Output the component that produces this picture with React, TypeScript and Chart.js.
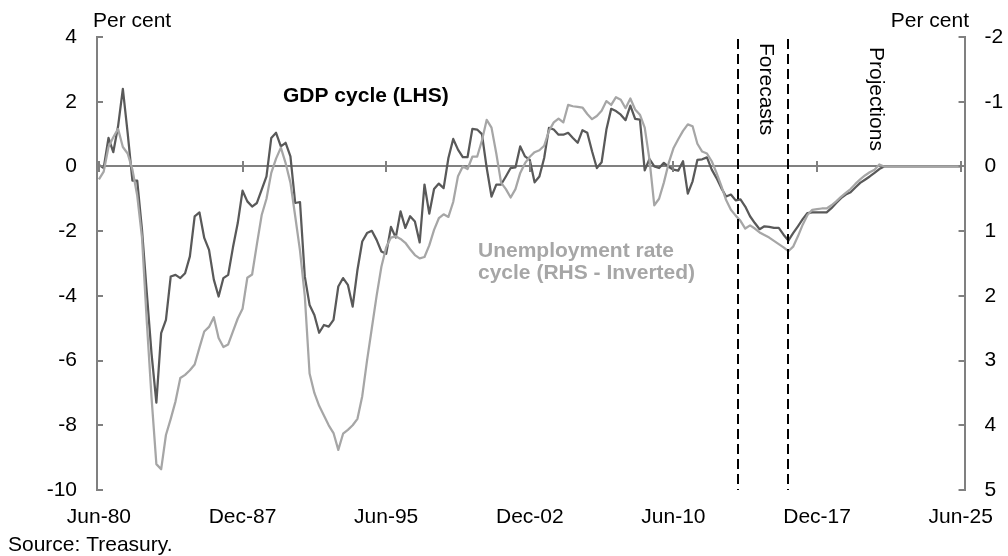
import React, { useEffect, useRef } from "react";
import { Chart, registerables } from "chart.js";

Chart.register(...registerables);

// Quarterly observations, Jun-80 (index 0) to Jun-25 (index 180)
const gdpCycle: number[] = [
  0.05, -0.05, 0.88, 0.44, 1.24, 2.4, 1.04, -0.44, -0.44, -1.96,
  -3.9, -5.8, -7.3, -5.15, -4.74, -3.4, -3.35, -3.45, -3.3, -2.78,
  -1.54, -1.42, -2.21, -2.58, -3.5, -4.02, -3.45, -3.35, -2.5, -1.75,
  -0.75, -1.08, -1.24, -1.13, -0.72, -0.31, 0.88, 1.04, 0.62, 0.73,
  0.31, -1.13, -1.1, -3.4, -4.28, -4.59, -5.14, -4.9, -4.95, -4.74,
  -3.71, -3.45, -3.66, -4.33, -3.2, -2.32, -2.06, -1.99, -2.27, -2.63,
  -2.7, -1.87, -2.2, -1.39, -1.9, -1.54, -1.7, -2.35, -0.56, -1.46,
  -0.7, -0.53, -0.67, 0.26, 0.85, 0.52, 0.29, 0.29, 1.16, 1.14,
  1.0, -0.05, -0.93, -0.56, -0.56, -0.31, -0.05, -0.03, 0.62, 0.31,
  0.2, -0.49, -0.31, 0.26, 1.19, 1.14, 0.98, 0.98, 1.04, 0.88,
  0.73, 1.12, 1.04, 0.47, -0.05, 0.13, 1.14, 1.78, 1.71, 1.6,
  1.43, 1.88, 1.47, 1.45, -0.12, 0.23, 0.0, -0.05, 0.11, -0.01,
  -0.1, -0.13, 0.16, -0.84, -0.46, 0.2, 0.22, 0.28, -0.1, -0.36,
  -0.67, -0.93, -0.87, -1.05, -1.02, -1.24, -1.54, -1.75, -1.94, -1.85,
  -1.87, -1.9, -1.9, -2.11, -2.29, -2.06, -1.85, -1.63, -1.44, -1.42,
  -1.42, -1.42, -1.42, -1.29, -1.13, -0.98, -0.87, -0.8, -0.65, -0.51,
  -0.41, -0.31, -0.2, -0.08, 0, 0, 0, 0, 0, 0,
  0, 0, 0, 0, 0, 0, 0, 0, 0, 0,
  0,
];

const unemploymentCycle: number[] = [
  0.2, 0.08, -0.3, -0.45, -0.58, -0.3, -0.2, 0.05, 0.45, 1.1,
  2.4, 3.58, 4.6, 4.68, 4.15, 3.9, 3.63, 3.27, 3.22, 3.15,
  3.06, 2.8, 2.55, 2.48, 2.33, 2.65, 2.79, 2.75, 2.55, 2.35,
  2.2, 1.72, 1.67, 1.2, 0.75, 0.5, 0.1, -0.12, -0.29, -0.05,
  0.25, 0.77, 1.3, 2.0, 3.2, 3.5, 3.7, 3.85, 4.0, 4.12,
  4.38, 4.13, 4.07, 4.0, 3.9, 3.55, 3.0, 2.5, 2.0, 1.55,
  1.25, 1.1, 1.08, 1.12, 1.18, 1.28, 1.37, 1.42, 1.4, 1.22,
  0.98, 0.8, 0.74, 0.78, 0.55, 0.15, 0.0, 0.04, -0.15, -0.15,
  -0.4, -0.72, -0.6, -0.2, 0.25, 0.35, 0.48, 0.35, 0.1, -0.05,
  -0.15, -0.22, -0.25, -0.32, -0.55, -0.68, -0.74, -0.68, -0.95, -0.93,
  -0.92, -0.91, -0.81, -0.73, -0.78, -0.86, -1.01, -0.95, -1.07, -1.03,
  -0.9, -1.05, -0.88, -0.8, -0.6, -0.1, 0.6, 0.5, 0.25, -0.05,
  -0.28, -0.42, -0.55, -0.65, -0.62, -0.35, -0.23, -0.2, -0.08, 0.1,
  0.3, 0.52, 0.67, 0.76, 0.84, 0.96, 0.91, 0.96, 1.02, 1.06,
  1.1, 1.15, 1.2, 1.25, 1.31, 1.24, 1.08, 0.9, 0.75, 0.67,
  0.66, 0.65, 0.65, 0.6, 0.54, 0.47, 0.41, 0.35, 0.27, 0.2,
  0.14, 0.09, 0.05, -0.03, 0, 0, 0, 0, 0, 0,
  0, 0, 0, 0, 0, 0, 0, 0, 0, 0,
  0,
];

const xTickQuarters: number[] = [0, 30, 60, 90, 120, 150, 180];
const xTickLabels: string[] = ["Jun-80", "Dec-87", "Jun-95", "Dec-02", "Jun-10", "Dec-17", "Jun-25"];
const forecastBounds: number[] = [133.5, 144];

const FONT = "'Liberation Sans', Arial, sans-serif";
const AXIS = "#808080";

const overlayPlugin = {
  id: "overlay",
  afterDatasetsDraw(chart: any) {
    const { ctx, chartArea, scales } = chart;
    const x = scales.x;
    ctx.save();
    ctx.strokeStyle = "#000";
    ctx.lineWidth = 2;
    ctx.setLineDash([10, 5]);
    forecastBounds.forEach((q) => {
      const px = Math.round(x.getPixelForValue(q));
      ctx.beginPath();
      ctx.moveTo(px, chartArea.top + 2);
      ctx.lineTo(px, chartArea.bottom);
      ctx.stroke();
    });
    ctx.restore();
  },
  afterDraw(chart: any) {
    const { ctx, chartArea, scales } = chart;
    const x = scales.x;
    const y = scales.y;
    const y1 = scales.y1;
    ctx.save();
    ctx.strokeStyle = AXIS;
    ctx.lineWidth = 2;
    ctx.setLineDash([]);
    y.ticks.forEach((t: any) => {
      const py = Math.round(y.getPixelForValue(t.value));
      ctx.beginPath();
      ctx.moveTo(chartArea.left, py);
      ctx.lineTo(chartArea.left + 6, py);
      ctx.stroke();
    });
    y1.ticks.forEach((t: any) => {
      const py = Math.round(y1.getPixelForValue(t.value));
      ctx.beginPath();
      ctx.moveTo(chartArea.right, py);
      ctx.lineTo(chartArea.right - 6, py);
      ctx.stroke();
    });
    const y0 = Math.round(y.getPixelForValue(0));
    xTickQuarters.forEach((q) => {
      const px = Math.round(x.getPixelForValue(q));
      ctx.beginPath();
      ctx.moveTo(px, y0 - 5);
      ctx.lineTo(px, y0 + 6);
      ctx.stroke();
    });

    ctx.fillStyle = "#000";
    ctx.textBaseline = "alphabetic";
    ctx.font = `21px ${FONT}`;
    ctx.textAlign = "left";
    ctx.fillText("Per cent", 93, 27);
    ctx.textAlign = "right";
    ctx.fillText("Per cent", 969, 27);
    ctx.textAlign = "left";
    ctx.fillText("Source: Treasury.", 8, 551);

    ctx.font = `bold 21px ${FONT}`;
    ctx.fillText("GDP cycle (LHS)", 283, 102);
    ctx.fillStyle = "#a6a6a6";
    ctx.fillText("Unemployment rate", 478, 257);
    ctx.fillText("cycle (RHS - Inverted)", 478, 279);

    ctx.fillStyle = "#000";
    ctx.font = `21px ${FONT}`;
    const drawVertical = (text: string, cx: number, top: number) => {
      ctx.save();
      ctx.translate(cx, top);
      ctx.rotate(Math.PI / 2);
      ctx.textAlign = "left";
      ctx.textBaseline = "middle";
      ctx.fillText(text, 0, 0);
      ctx.restore();
    };
    drawVertical("Forecasts", 766, 43);
    drawVertical("Projections", 876, 47);
    ctx.restore();
  },
};

export default function App() {
  const ref = useRef<HTMLCanvasElement>(null);
  useEffect(() => {
    const canvas = ref.current;
    if (!canvas) return;
    const chart = new Chart(canvas, {
      type: "line",
      data: {
        datasets: [
          {
            label: "Unemployment rate cycle (RHS - Inverted)",
            data: unemploymentCycle.map((v, i) => ({ x: i, y: v })),
            yAxisID: "y1",
            borderColor: "#a6a6a6",
            borderWidth: 2.25,
            pointRadius: 0,
            borderJoinStyle: "round",
            tension: 0,
          },
          {
            label: "GDP cycle (LHS)",
            data: gdpCycle.map((v, i) => ({ x: i, y: v })),
            yAxisID: "y",
            borderColor: "#595959",
            borderWidth: 2.25,
            pointRadius: 0,
            borderJoinStyle: "round",
            tension: 0,
          },
        ],
      },
      options: {
        responsive: false,
        animation: false,
        devicePixelRatio: 1,
        layout: { padding: { top: 37, left: 0, right: 0, bottom: 0 } },
        plugins: { legend: { display: false }, tooltip: { enabled: false } },
        scales: {
          x: {
            type: "linear",
            min: -0.4,
            max: 180.8,
            position: "bottom",
            grid: { display: false, drawTicks: false },
            border: { display: false },
            afterBuildTicks: (s: any) => {
              s.ticks = xTickQuarters.map((v) => ({ value: v }));
            },
            ticks: {
              autoSkip: false,
              maxRotation: 0,
              minRotation: 0,
              padding: 15,
              color: "#000",
              font: { family: FONT, size: 21 },
              callback: (_v: any, i: number) => xTickLabels[i],
            },
            afterFit: (s: any) => {
              s.height = 66;
            },
          },
          y: {
            position: "left",
            min: -10,
            max: 4,
            ticks: { stepSize: 2, padding: 20, color: "#000", font: { family: FONT, size: 21 } },
            grid: {
              drawTicks: false,
              lineWidth: 2,
              color: (c: any) => (c.tick && c.tick.value === 0 ? AXIS : "rgba(0,0,0,0)"),
            },
            border: { color: AXIS, width: 2 },
            afterFit: (s: any) => {
              s.width = 97;
            },
          },
          y1: {
            position: "right",
            min: -2,
            max: 5,
            reverse: true,
            ticks: { stepSize: 1, padding: 20, color: "#000", font: { family: FONT, size: 21 } },
            grid: { display: false, drawTicks: false },
            border: { color: AXIS, width: 2 },
            afterFit: (s: any) => {
              s.width = 43;
            },
          },
        },
      },
      plugins: [overlayPlugin],
    } as any);
    return () => chart.destroy();
  }, []);

  return (
    <div style={{ position: "absolute", left: 0, top: 0, width: 1008, height: 556, background: "#fff" }}>
      <canvas ref={ref} width={1008} height={556} style={{ width: 1008, height: 556, display: "block" }} />
    </div>
  );
}
